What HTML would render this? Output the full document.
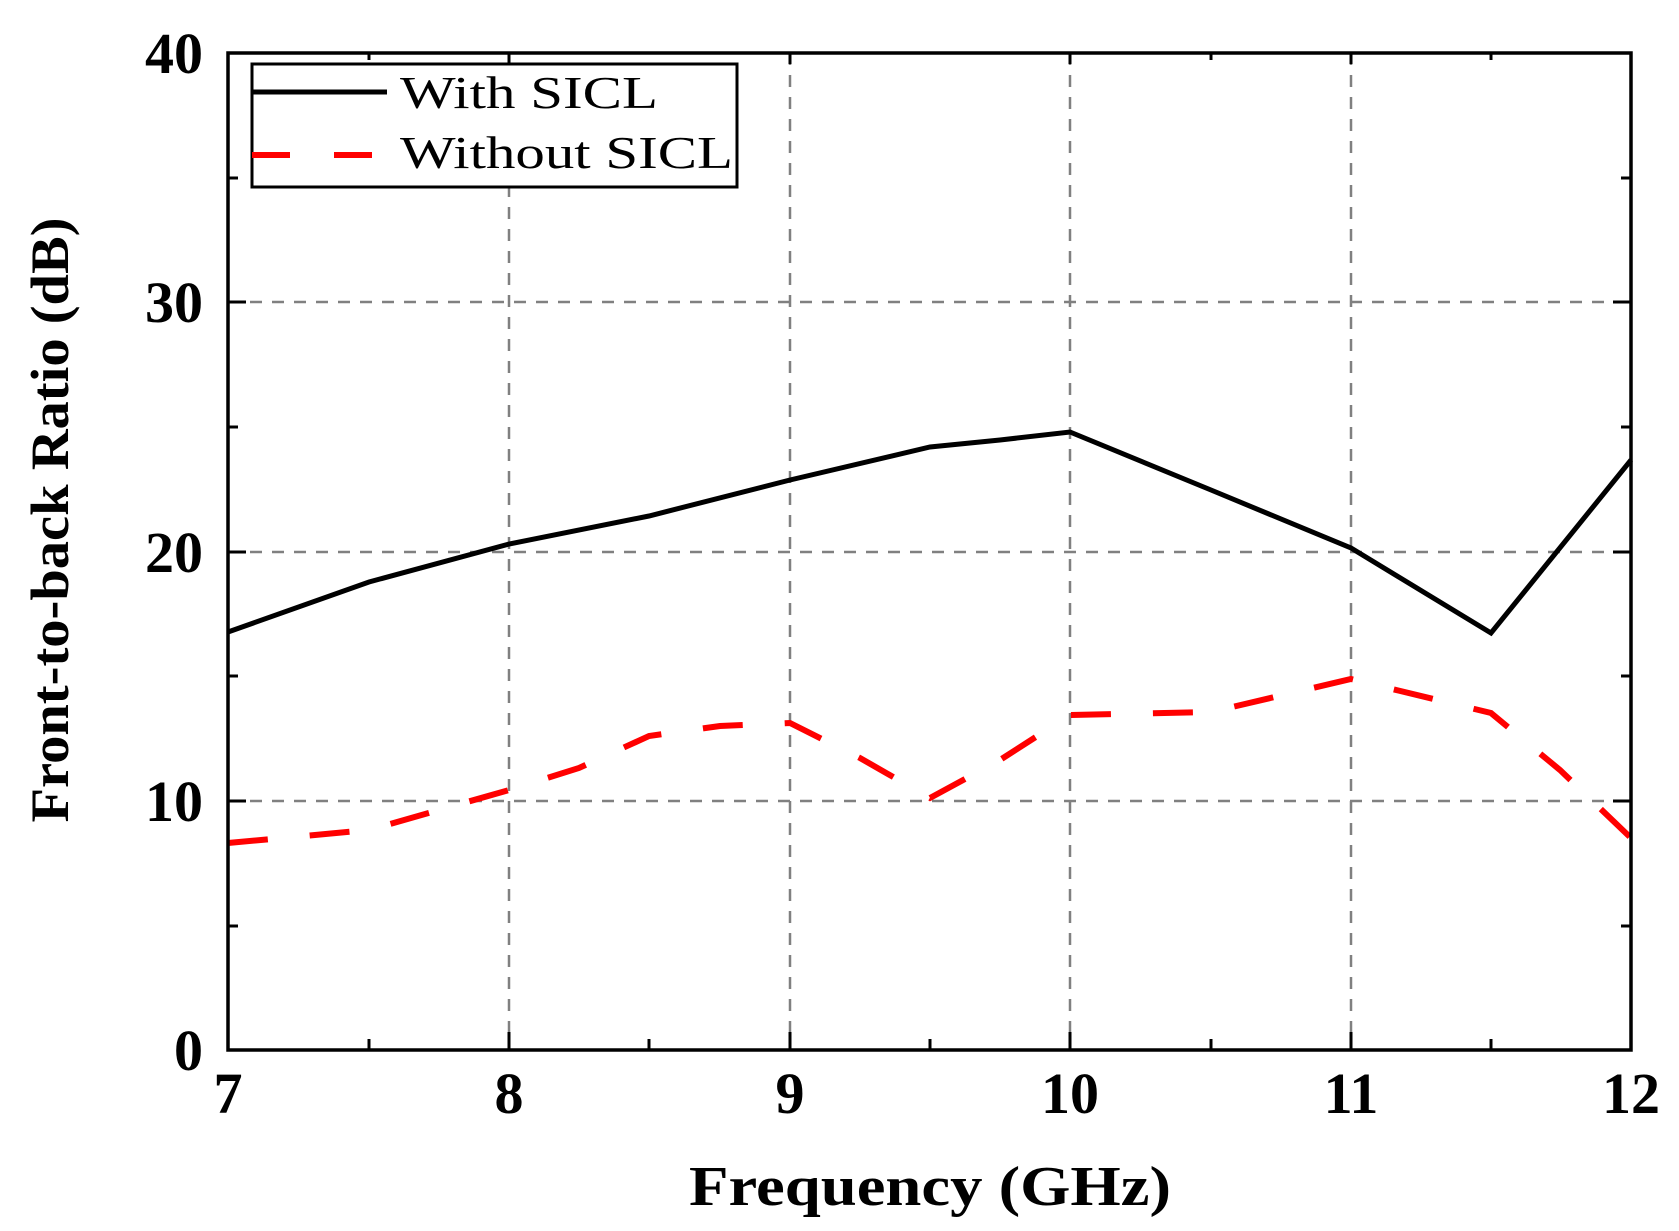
<!DOCTYPE html>
<html><head><meta charset="utf-8"><style>
html,body{margin:0;padding:0;background:#fff;}
svg{display:block;}
text{font-family:"Liberation Serif",serif;font-weight:bold;fill:#000;}
</style></head><body>
<svg width="1679" height="1231" viewBox="0 0 1679 1231" xmlns="http://www.w3.org/2000/svg">
<rect width="1679" height="1231" fill="#fff"/>
<!-- grid -->
<g stroke="#808080" stroke-width="2.5" stroke-dasharray="12,10" fill="none">
<line x1="509" y1="53" x2="509" y2="1050"/>
<line x1="790" y1="53" x2="790" y2="1050"/>
<line x1="1070" y1="53" x2="1070" y2="1050"/>
<line x1="1351" y1="53" x2="1351" y2="1050"/>
<line x1="228" y1="302" x2="1631" y2="302"/>
<line x1="228" y1="552" x2="1631" y2="552"/>
<line x1="228" y1="801" x2="1631" y2="801"/>
</g>
<!-- ticks -->
<g stroke="#000" stroke-width="3">
<line x1="509" y1="1050" x2="509" y2="1032"/><line x1="790" y1="1050" x2="790" y2="1032"/><line x1="1070" y1="1050" x2="1070" y2="1032"/><line x1="1351" y1="1050" x2="1351" y2="1032"/>
<line x1="369" y1="1050" x2="369" y2="1039"/><line x1="649" y1="1050" x2="649" y2="1039"/><line x1="930" y1="1050" x2="930" y2="1039"/><line x1="1211" y1="1050" x2="1211" y2="1039"/><line x1="1491" y1="1050" x2="1491" y2="1039"/>
<line x1="509" y1="53" x2="509" y2="64"/><line x1="790" y1="53" x2="790" y2="64"/><line x1="1070" y1="53" x2="1070" y2="64"/><line x1="1351" y1="53" x2="1351" y2="64"/><line x1="369" y1="53" x2="369" y2="60"/><line x1="1211" y1="53" x2="1211" y2="60"/><line x1="1491" y1="53" x2="1491" y2="60"/>
<line x1="228" y1="302" x2="246" y2="302"/><line x1="228" y1="552" x2="246" y2="552"/><line x1="228" y1="801" x2="246" y2="801"/>
<line x1="228" y1="178" x2="238" y2="178"/><line x1="228" y1="427" x2="238" y2="427"/><line x1="228" y1="676" x2="238" y2="676"/><line x1="228" y1="926" x2="238" y2="926"/>
<line x1="1631" y1="302" x2="1613" y2="302"/><line x1="1631" y1="552" x2="1613" y2="552"/><line x1="1631" y1="801" x2="1613" y2="801"/>
<line x1="1631" y1="178" x2="1621" y2="178"/><line x1="1631" y1="427" x2="1621" y2="427"/><line x1="1631" y1="676" x2="1621" y2="676"/><line x1="1631" y1="926" x2="1621" y2="926"/>
</g>
<!-- series -->
<polyline fill="none" stroke="#000" stroke-width="5" stroke-linejoin="miter"
 points="228,632 369,582 509,544 649,516 790,480 930,447 1000,440 1070,432 1211,490 1351,548 1491,633 1631,460"/>
<polyline fill="none" stroke="#ff0000" stroke-width="6" stroke-dasharray="40,42"
 points="228,843 369,830 509,790 579,768 649,736 720,726 790,723 860,758 930,798 1000,760 1070,715 1211,712 1351,679 1491,713 1560,770 1631,838"/>
<!-- axes frame -->
<rect x="228" y="53" width="1403" height="997" fill="none" stroke="#000" stroke-width="3.5"/>
<!-- legend -->
<rect x="252" y="64" width="485" height="123" fill="#fff" stroke="#000" stroke-width="3"/>
<line x1="252" y1="92" x2="387" y2="92" stroke="#000" stroke-width="5"/>
<line x1="252" y1="155" x2="377" y2="155" stroke="#ff0000" stroke-width="6" stroke-dasharray="38,44"/>
<text x="400" y="108" font-size="46" style="font-weight:normal" textLength="258" lengthAdjust="spacingAndGlyphs">With SICL</text>
<text x="400" y="168" font-size="46" style="font-weight:normal" textLength="333" lengthAdjust="spacingAndGlyphs">Without SICL</text>
<!-- y tick labels -->
<g font-size="58" text-anchor="end">
<text x="203" y="73">40</text>
<text x="203" y="322">30</text>
<text x="203" y="572">20</text>
<text x="203" y="821">10</text>
<text x="203" y="1070">0</text>
</g>
<!-- x tick labels -->
<g font-size="58" text-anchor="middle">
<text x="228" y="1113">7</text>
<text x="509" y="1113">8</text>
<text x="790" y="1113">9</text>
<text x="1070" y="1113">10</text>
<text x="1351" y="1113">11</text>
<text x="1631" y="1113">12</text>
</g>
<text x="930" y="1205" font-size="56" text-anchor="middle" textLength="482" lengthAdjust="spacingAndGlyphs">Frequency (GHz)</text>
<text transform="translate(68,520) rotate(-90)" font-size="54" text-anchor="middle" textLength="605" lengthAdjust="spacingAndGlyphs">Front-to-back Ratio (dB)</text>
</svg>
</body></html>
